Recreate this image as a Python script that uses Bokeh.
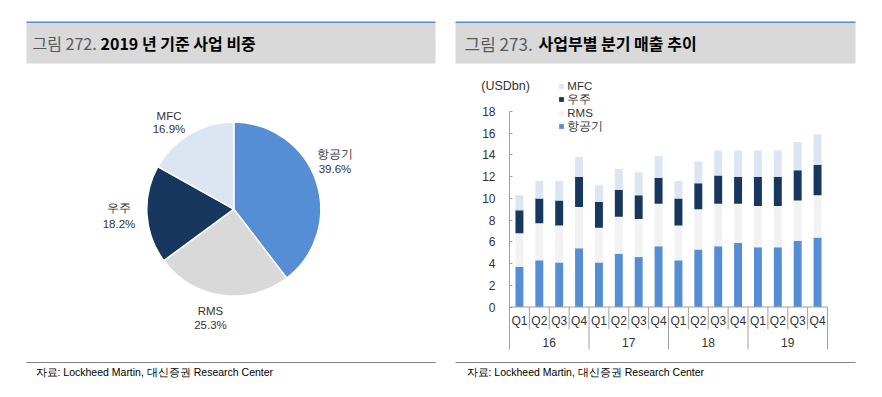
from bokeh.plotting import figure
from bokeh.models import Range1d, FactorRange, Legend, LegendItem, Label, FixedTicker, ColumnDataSource
from bokeh.layouts import column, row
from bokeh.embed import file_html
from bokeh.resources import INLINE
from bokeh.core.properties import value

# ---------------- data ----------------
pie_names = ["항공기", "RMS", "우주", "MFC"]
pie_shares = [39.6, 25.3, 18.2, 16.9]
pie_colors = ["#558ed5", "#d9d9d9", "#17375e", "#dce6f2"]

years = ["16", "17", "18", "19"]
quarters = ["Q1", "Q2", "Q3", "Q4"]
aero = [3.7, 4.3, 4.1, 5.4, 4.1, 4.9, 4.6, 5.6, 4.3, 5.3, 5.6, 5.9, 5.5, 5.5, 6.1, 6.4]
rms = [3.1, 3.4, 3.4, 3.8, 3.2, 3.4, 3.5, 3.9, 3.2, 3.7, 3.9, 3.6, 3.8, 3.8, 3.7, 3.9]
space = [2.1, 2.3, 2.3, 2.8, 2.4, 2.5, 2.2, 2.4, 2.5, 2.4, 2.6, 2.5, 2.7, 2.7, 2.8, 2.8]
mfc = [1.4, 1.6, 1.8, 1.8, 1.5, 1.9, 2.1, 2.0, 1.6, 2.0, 2.3, 2.4, 2.4, 2.4, 2.6, 2.8]
seg_names = ["항공기", "RMS", "우주", "MFC"]
seg_colors = ["#558ed5", "#f2f2f2", "#17375e", "#dce6f2"]
y_ticks = [0, 2, 4, 6, 8, 10, 12, 14, 16, 18]
unit_label = "(USDbn)"

title_left_num = "그림 272."
title_left = "2019 년 기준 사업 비중"
title_right_num = "그림 273."
title_right = "사업부별 분기 매출 추이"
source_note = "자료: Lockheed Martin, 대신증권 Research Center"

KR = value("Noto Sans CJK KR")
LS = value("Liberation Sans")
LSN = "Liberation Sans"
TXT = "#333333"
AXC = "#a0a0a0"

ROW_TOP = 64        # page y where the chart row starts
ROW_H = 288         # chart row height
FRAME_TOP = 8       # frame inset from the row top (shared by both charts)


def pixel_fig(w, h, x0, x1, y0, y1, top_border=0):
    f = figure(width=w, height=h, x_range=Range1d(x0, x1), y_range=Range1d(y0, y1),
               output_backend="svg", toolbar_location=None, title=None,
               x_axis_location=None, y_axis_location=None, min_border=0,
               min_border_top=top_border)
    f.grid.visible = False
    f.outline_line_color = None
    f.background_fill_color = "white"
    f.border_fill_color = "white"
    return f


# ---------------- title strip ----------------
top = pixel_fig(882, ROW_TOP, 0, 882, ROW_TOP, 0)
top.quad(left=[26, 455], right=[435, 855], top=[22, 22], bottom=[63, 63],
         fill_color="#d9d9d9", line_color=None)
top.segment(x0=[26, 455], x1=[435, 855], y0=[21.8, 21.8], y1=[21.8, 21.8],
            line_color="#558ed5", line_width=1.5)
top.text(x=[32], y=[42.5], text=[title_left_num],
         text_font=KR, text_font_size="16px", text_color="#595959",
         text_align="left", text_baseline="middle")
top.text(x=[464], y=[42.5], text=[title_right_num],
         text_font=KR, text_font_size="17px", text_color="#595959",
         text_align="left", text_baseline="middle")
top.text(x=[100, 538], y=[42.5, 42.5], text=[title_left, title_right],
         text_font=KR, text_font_size="16px", text_font_style="bold", text_color="#000000",
         text_align="left", text_baseline="middle")

# ---------------- pie ----------------
pie = pixel_fig(441, ROW_H, 0, 441, -(ROW_TOP + ROW_H), -(ROW_TOP + FRAME_TOP),
                top_border=FRAME_TOP)
starts, ends = [], []
cum = 0.0
total = sum(pie_shares)
for s in pie_shares:
    starts.append(90 - cum / total * 360)
    cum += s
    ends.append(90 - cum / total * 360)
pie.wedge(x=233.3, y=-208.6, radius=87, start_angle=starts, end_angle=ends,
          start_angle_units="deg", end_angle_units="deg", direction="clock",
          fill_color=pie_colors, line_color="white", line_width=1.5)
lab_x = [334.5, 210, 118.5, 168.5]
lab_y1 = [-153.3, -310.7, -207.7, -115]
lab_y2 = [-168.3, -324.3, -223.5, -128.6]
pie.text(x=lab_x, y=lab_y1, text=pie_names, text_font=LS, text_font_size="11.5px",
         text_color=TXT, text_align="center", text_baseline="middle")
pie.text(x=lab_x, y=lab_y2, text=[f"{v:.1f}%" for v in pie_shares], text_font=LS,
         text_font_size="11.5px", text_color=TXT, text_align="center", text_baseline="middle")

# ---------------- bar chart ----------------
factors = [(y, q) for y in years for q in quarters]
n = len(factors)
px_per_factor = 19.875
pad_px = 39.0
px_per_unit = 10.861
zero_y = 306.5
xr = FactorRange(factors=factors, factor_padding=0, group_padding=0, subgroup_padding=0,
                 range_padding=pad_px / px_per_factor, range_padding_units="absolute")
y_top = (zero_y - (ROW_TOP + FRAME_TOP)) / px_per_unit
y_bot = -((ROW_TOP + ROW_H) - zero_y) / px_per_unit
y_sep = -(349 - zero_y) / px_per_unit
bar = figure(width=441, height=ROW_H, x_range=xr, y_range=Range1d(y_bot, y_top),
             output_backend="svg", toolbar_location=None, title=None,
             min_border_left=29, min_border_right=16, min_border_top=FRAME_TOP,
             min_border_bottom=0)
bar.grid.visible = False
bar.outline_line_color = None
bar.background_fill_color = "white"
bar.border_fill_color = "white"

src = ColumnDataSource(dict(x=factors, aero=aero, rms=rms, space=space, mfc=mfc))
keys = ["aero", "rms", "space", "mfc"]
rs = bar.vbar_stack(keys, x="x", width=0.4, color=seg_colors, source=src, line_color=None)

# axis lines and separators between quarters / years (synthetic coords of the factor range)
q_b = [i for i in range(n + 1) if i % len(quarters) != 0]
y_b = [i for i in range(n + 1) if i % len(quarters) == 0]
bar.segment(x0=[0], x1=[0], y0=[y_sep], y1=[y_ticks[-1]], line_color=AXC, line_width=1)
bar.segment(x0=[0], x1=[n], y0=[0], y1=[0], line_color=AXC, line_width=1)
bar.segment(x0=q_b, x1=q_b, y0=[0] * len(q_b), y1=[-2.05] * len(q_b),
            line_color=AXC, line_width=1)
bar.segment(x0=y_b[1:], x1=y_b[1:], y0=[0] * len(y_b[1:]), y1=[y_sep] * len(y_b[1:]),
            line_color=AXC, line_width=1)

ya = bar.yaxis[0]
ya.fixed_location = 0
ya.ticker = FixedTicker(ticks=y_ticks)
ya.minor_tick_line_color = None
ya.major_tick_in = 3
ya.major_tick_out = 0
ya.major_tick_line_color = AXC
ya.axis_line_color = None
ya.major_label_standoff = 14
ya.major_label_text_font = LSN
ya.major_label_text_font_size = "12px"
ya.major_label_text_color = TXT

xa = bar.xaxis[0]
xa.fixed_location = 0
xa.axis_line_color = None
xa.major_tick_line_color = None
xa.major_tick_in = 0
xa.major_tick_out = 0
xa.minor_tick_line_color = None
xa.separator_line_color = None
xa.major_label_standoff = 7
xa.major_label_text_font = LSN
xa.major_label_text_font_size = "12px"
xa.major_label_text_color = TXT
xa.group_text_font = LSN
xa.group_text_font_size = "12px"
xa.group_text_color = TXT
xa.group_text_font_style = "normal"

items = [LegendItem(label=nm, renderers=[r]) for nm, r in zip(seg_names, rs)][::-1]
legend = Legend(items=items, location=(88.3, (ROW_TOP + ROW_H) - 133.5), orientation="vertical",
                glyph_width=6, glyph_height=6, label_height=12, spacing=-2,
                label_standoff=3, padding=0, margin=0,
                label_text_font=LSN, label_text_font_size="11.5px", label_text_color=TXT,
                label_text_line_height=0.9,
                background_fill_alpha=0, border_line_color=None)
bar.add_layout(legend)

bar.add_layout(Label(x=-0.2, y=(zero_y - 85.7) / px_per_unit, text=unit_label, text_font=LSN,
                     text_font_size="12.5px", text_color=TXT, text_align="center",
                     text_baseline="middle"))

# ---------------- footer ----------------
foot = pixel_fig(882, 397 - (ROW_TOP + ROW_H), 0, 882, 397, ROW_TOP + ROW_H)
foot.segment(x0=[26, 455], x1=[435, 855], y0=[362, 362], y1=[362, 362],
             line_color="#808080", line_width=1)
foot.text(x=[35, 466], y=[371.5, 371.5], text=[source_note, source_note], text_font=LS,
          text_font_size="10.5px", text_color="#000000", text_align="left", text_baseline="middle")

layout = column(top, row(pie, bar), foot)
open("out.html", "w").write(file_html(layout, INLINE))
